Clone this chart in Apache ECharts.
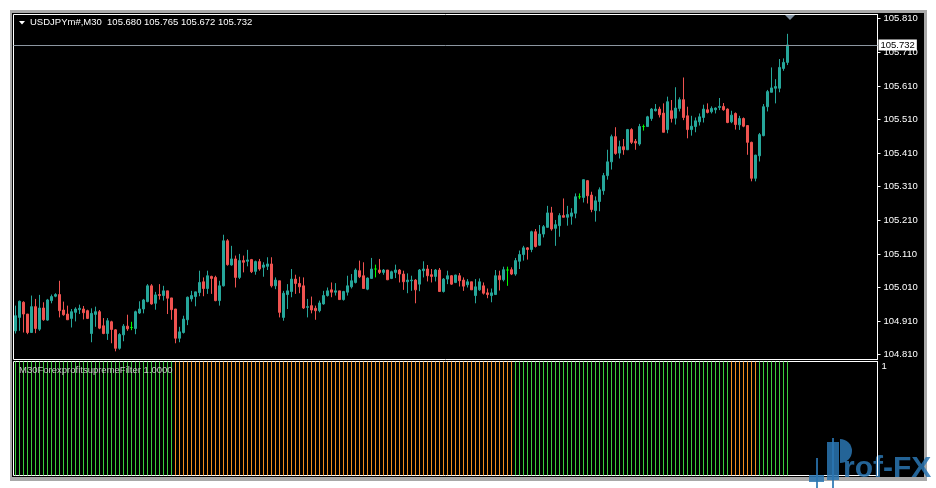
<!DOCTYPE html>
<html><head><meta charset="utf-8">
<script src="https://cdn.jsdelivr.net/npm/echarts@6/dist/echarts.min.js"></script>
<style>html,body{margin:0;padding:0;background:#fff}#c{width:936px;height:488px}</style>
</head><body><div id="c"></div>
<script>
// ---- data ----
const opens = [
104.881,104.921,104.966,104.931,104.876,104.953,104.886,104.949,104.913,104.971,
104.984,104.989,104.943,104.931,104.918,104.936,104.944,104.946,104.941,104.873,
104.930,104.938,104.896,104.873,104.908,104.884,104.829,104.869,104.895,104.891,
104.888,104.934,104.946,104.968,105.015,104.963,104.989,104.986,105.000,104.979,
104.946,104.859,104.876,104.914,104.976,104.983,104.995,105.027,105.007,105.043,
105.040,104.971,105.015,105.149,105.077,105.095,105.040,105.090,105.088,105.093,
105.058,105.087,105.070,105.073,105.080,105.015,105.030,104.921,104.989,104.998,
105.035,105.022,105.015,104.951,104.956,104.948,104.941,104.961,104.986,105.003,
104.996,105.000,104.974,104.996,105.012,105.025,105.060,105.045,105.005,105.037,
105.065,105.062,105.055,105.062,105.037,105.055,105.062,105.050,105.027,105.030,
105.032,105.020,105.060,105.065,105.048,105.043,105.062,104.998,105.035,105.045,
105.025,105.045,105.032,105.018,105.027,104.986,105.003,105.015,104.994,104.986,
104.989,105.045,105.033,105.062,105.063,105.050,105.088,105.108,105.128,105.123,
105.176,105.136,105.169,105.189,105.232,105.186,105.194,105.224,105.219,105.222,
105.231,105.280,105.278,105.328,105.285,105.239,105.266,105.298,105.343,105.384,
105.459,105.410,105.429,105.420,105.480,105.445,105.437,105.489,105.489,105.513,
105.536,105.541,105.529,105.480,105.536,105.514,105.543,105.569,105.521,105.480,
105.489,105.503,105.516,105.539,105.533,105.539,105.546,105.549,105.541,105.503,
105.528,105.494,105.513,105.492,105.442,105.335,105.402,105.462,105.548,105.591,
105.603,105.603,105.662,105.680];
const highs = [
104.956,104.971,104.969,104.931,104.986,104.976,104.988,104.966,104.976,104.989,
104.993,105.030,104.968,104.956,104.946,104.951,104.959,104.955,104.944,104.948,
104.953,104.943,104.919,104.919,104.911,104.886,104.874,104.901,104.929,104.908,
104.941,104.969,104.976,105.020,105.020,104.997,105.020,105.015,105.000,104.979,
104.946,104.893,104.926,104.983,105.000,104.997,105.060,105.040,105.060,105.045,
105.045,105.030,105.167,105.154,105.134,105.105,105.110,105.105,105.122,105.095,
105.090,105.095,105.085,105.100,105.100,105.040,105.030,105.000,105.020,105.065,
105.048,105.042,105.040,104.976,104.983,104.956,104.971,105.000,105.010,105.025,
105.023,105.000,105.000,105.045,105.050,105.067,105.090,105.085,105.040,105.098,
105.078,105.095,105.065,105.062,105.060,105.078,105.065,105.060,105.052,105.045,
105.035,105.065,105.088,105.077,105.065,105.065,105.068,105.038,105.060,105.047,
105.048,105.053,105.040,105.035,105.027,105.035,105.037,105.025,105.007,105.007,
105.062,105.060,105.072,105.072,105.070,105.098,105.120,105.134,105.130,105.179,
105.184,105.196,105.196,105.253,105.250,105.211,105.231,105.275,105.253,105.246,
105.290,105.290,105.331,105.330,105.295,105.281,105.308,105.351,105.420,105.465,
105.487,105.447,105.452,105.482,105.484,105.452,105.497,105.495,105.521,105.544,
105.556,105.548,105.558,105.578,105.568,105.606,105.576,105.635,105.548,105.521,
105.516,105.528,105.554,105.558,105.549,105.546,105.574,105.559,105.543,105.536,
105.531,105.521,105.516,105.492,105.444,105.405,105.470,105.556,105.598,105.665,
105.630,105.690,105.692,105.765];
const lows = [
104.873,104.881,104.876,104.871,104.876,104.874,104.881,104.911,104.911,104.963,
104.981,104.921,104.926,104.914,104.891,104.909,104.931,104.915,104.916,104.847,
104.893,104.886,104.871,104.854,104.844,104.820,104.825,104.850,104.881,104.883,
104.871,104.931,104.933,104.966,104.959,104.944,104.974,104.971,104.931,104.914,
104.844,104.847,104.873,104.898,104.968,104.954,104.984,104.984,104.991,104.991,
104.969,104.956,105.013,105.075,105.075,105.010,105.035,105.055,105.073,105.053,
105.048,105.060,105.042,105.062,105.010,105.005,104.921,104.911,104.946,104.981,
104.991,104.993,104.946,104.921,104.933,104.914,104.936,104.959,104.983,104.981,
104.986,104.974,104.971,104.986,105.007,105.022,105.038,105.007,105.002,105.037,
105.040,105.050,105.048,105.032,105.035,105.038,105.025,105.003,104.993,105.000,
104.963,104.999,105.040,105.028,105.025,105.028,104.998,104.995,105.020,105.018,
105.023,105.013,105.000,105.010,105.003,104.963,105.000,104.989,104.978,104.966,
104.989,105.001,105.028,105.015,105.047,105.045,105.065,105.090,105.093,105.115,
105.129,105.134,105.159,105.189,105.179,105.134,105.161,105.219,105.194,105.197,
105.216,105.273,105.263,105.260,105.234,105.206,105.237,105.286,105.331,105.361,
105.405,105.394,105.405,105.419,105.437,105.420,105.432,105.477,105.489,105.506,
105.534,105.516,105.472,105.469,105.501,105.495,105.534,105.508,105.454,105.462,
105.472,105.492,105.501,105.528,105.528,105.528,105.538,105.536,105.499,105.499,
105.480,105.479,105.487,105.405,105.326,105.326,105.385,105.460,105.534,105.591,
105.558,105.591,105.655,105.672];
const closes = [
104.926,104.969,104.931,104.876,104.953,104.888,104.949,104.914,104.973,104.983,
104.989,104.941,104.929,104.914,104.938,104.946,104.948,104.935,104.918,104.933,
104.938,104.889,104.873,104.911,104.885,104.829,104.870,104.895,104.887,104.891,
104.938,104.946,104.973,105.015,104.961,104.988,104.986,105.000,104.978,104.944,
104.859,104.878,104.916,104.981,104.986,104.997,105.025,105.007,105.045,105.037,
104.971,105.015,105.149,105.078,105.095,105.040,105.090,105.085,105.092,105.057,
105.087,105.065,105.077,105.080,105.015,105.032,104.936,104.993,105.000,105.035,
105.022,105.012,104.949,104.953,104.943,104.941,104.964,104.986,105.000,104.996,
105.000,104.974,104.998,105.015,105.030,105.062,105.042,105.007,105.038,105.065,
105.065,105.055,105.062,105.033,105.057,105.062,105.050,105.027,105.032,105.032,
105.003,105.062,105.065,105.045,105.043,105.062,104.998,105.035,105.045,105.020,
105.047,105.030,105.014,105.027,105.003,105.012,105.027,104.993,104.989,104.994,
105.045,105.033,105.063,105.062,105.050,105.090,105.108,105.128,105.123,105.176,
105.132,105.169,105.191,105.232,105.184,105.197,105.224,105.219,105.227,105.232,
105.280,105.280,105.331,105.283,105.242,105.268,105.301,105.343,105.384,105.459,
105.409,105.429,105.420,105.480,105.442,105.440,105.489,105.489,105.518,105.541,
105.541,105.524,105.472,105.563,105.513,105.544,105.569,105.516,105.480,105.490,
105.506,105.518,105.541,105.531,105.543,105.544,105.549,105.539,105.501,105.523,
105.495,105.513,105.490,105.442,105.335,105.404,105.465,105.548,105.593,105.604,
105.608,105.665,105.680,105.732];
// filter indicator state per bar: 1 = green, 0 = orange
const filterState = [
1,1,1,1,1,1,1,1,1,1, 1,1,1,1,1,1,1,1,1,1, 1,1,1,1,1,1,1,1,1,1, 1,1,1,1,1,1,1,1,1,1,
0,0,0,0,0,0,0,0,0,0, 0,0,0,0,0,0,0,0,0,0, 0,0,0,0,0,0,0,0,0,0, 0,0,0,0,0,0,0,0,0,0,
0,0,0,0,0,0,0,0,0,0, 0,0,0,0,0,0,0,0,0,0, 0,0,0,0,0,0,0,0,0,0, 0,0,0,0,0,0,0,0,0,0,
0,0,0,0,0,1,1,1,1,1, 1,1,1,1,1,1,1,1,1,1, 1,1,1,1,1,1,1,1,1,1, 1,1,1,1,1,1,1,1,1,1,
1,1,1,1,1,1,1,1,1,1, 1,1,1,1,1,1,1,1,1,0, 0,0,0,0,0,0,1,1,1,1, 1,1,1,1];
const priceTicks = [104.810,104.910,105.010,105.110,105.210,105.310,105.410,105.510,105.610,105.710,105.810];
const indicatorTicks = [1];
const symbolName = 'USDJPYm#,M30';
const lastBarOHLC = [105.680,105.765,105.672,105.732];
const currentPrice = 105.732;
const indicatorName = 'M30ForexprofitsupremeFilter 1.0000';
const logoText = 'rof-FX';

// ---- chart ----
const TOTAL_SLOTS = 216;
const cats = [];
for (let i = 0; i < TOTAL_SLOTS; i++) cats.push(String(i));
const UP = '#26a69a', DOWN = '#ef5350', DOJI = '#00ff00';
const GREEN = '#3ccd3c', ORANGE = '#f0901e';
const LOGO = 'rgba(42,118,178,0.85)';
const candleData = opens.map((o, i) => {
  const v = [o, closes[i], lows[i], highs[i]];
  if (o === closes[i]) return {value: v, itemStyle: {color: DOJI, color0: DOJI, borderColor: DOJI, borderColor0: DOJI}};
  return v;
});
const filterData = filterState.map(s => ({value: 1, itemStyle: {color: s ? GREEN : ORANGE}}));
const FONT = 'Liberation Sans, Arial, sans-serif';

const chart = echarts.init(document.getElementById('c'), null, {renderer: 'canvas'});
chart.setOption({
  animation: false,
  backgroundColor: '#ffffff',
  grid: [
    {left: 13.5, top: 14.5, width: 864, height: 345, show: true, borderColor: '#ffffff', borderWidth: 1, outerBoundsMode: 'none'},
    {left: 13.5, top: 361.5, width: 864, height: 114, show: true, borderColor: '#ffffff', borderWidth: 1, outerBoundsMode: 'none'}
  ],
  xAxis: [
    {type: 'category', gridIndex: 0, data: cats, boundaryGap: true, show: false},
    {type: 'category', gridIndex: 1, data: cats, boundaryGap: true, show: false}
  ],
  yAxis: [
    {type: 'value', gridIndex: 0, position: 'right', min: 104.7957, max: 105.8225, scale: true,
      splitLine: {show: false},
      axisLine: {show: true, lineStyle: {color: '#ffffff', width: 1}},
      axisTick: {show: true, length: 3, lineStyle: {color: '#ffffff'}, customValues: priceTicks},
      axisLabel: {show: true, color: '#ffffff', fontSize: 9.5, fontFamily: FONT, margin: 6,
        customValues: priceTicks, formatter: v => Number(v).toFixed(3)}
    },
    {type: 'value', gridIndex: 1, position: 'right', min: 0, max: 1,
      splitLine: {show: false},
      axisLine: {show: true, lineStyle: {color: '#ffffff', width: 1}},
      axisTick: {show: false},
      axisLabel: {show: true, color: '#ffffff', fontSize: 9.5, fontFamily: FONT, margin: 4,
        verticalAlign: 'top', customValues: indicatorTicks, formatter: v => (v === 1 ? '1' : '')}
    }
  ],
  series: [
    {type: 'candlestick', xAxisIndex: 0, yAxisIndex: 0, data: candleData, barWidth: 2,
      itemStyle: {color: UP, color0: DOWN, borderColor: UP, borderColor0: DOWN, borderColorDoji: DOJI, borderWidth: 1},
      markLine: {silent: true, symbol: ['none', 'none'], animation: false, precision: 3,
        lineStyle: {color: '#8c96a0', width: 1, type: 'solid'},
        label: {show: true, position: 'end', distance: 1, color: '#000000', backgroundColor: '#ffffff',
          padding: [1, 2, 0, 2], fontSize: 9.5, fontFamily: FONT, formatter: () => currentPrice.toFixed(3)},
        data: [{yAxis: currentPrice}]}
    },
    {type: 'bar', xAxisIndex: 1, yAxisIndex: 1, data: filterData, barWidth: 1, silent: true,
      itemStyle: {borderWidth: 0}, emphasis: {disabled: true}}
  ],
  graphic: [
    {type: 'rect', z: -10, shape: {x: 10, y: 10, width: 917, height: 471}, style: {fill: '#a8a8a8'}},
    {type: 'rect', z: -9, shape: {x: 12, y: 13, width: 912, height: 464}, style: {fill: '#000000'}},
    {type: 'polygon', z: 50, shape: {points: [[19, 21], [25, 21], [22, 24.5]]}, style: {fill: '#ffffff'}},
    {type: 'text', z: 50, left: 30, top: 17,
      style: {text: symbolName + '  ' + lastBarOHLC.map(v => v.toFixed(3)).join(' '), fill: '#ffffff', font: '9.5px ' + FONT}},
    {type: 'polygon', z: 50, shape: {points: [[785, 15], [795, 15], [790, 20]]}, style: {fill: '#8090a0'}},
    {type: 'text', z: 50, left: 19, top: 365,
      style: {text: indicatorName, fill: '#c8c8c8', font: '9.5px ' + FONT}},
    // logo
    {type: 'group', z: 100, children: [
      {type: 'rect', shape: {x: 816, y: 458, width: 2, height: 30}, style: {fill: LOGO}},
      {type: 'rect', shape: {x: 809, y: 475, width: 15, height: 7}, style: {fill: LOGO}},
      {type: 'rect', shape: {x: 832, y: 438, width: 2, height: 50}, style: {fill: LOGO}},
      {type: 'rect', shape: {x: 827, y: 442, width: 12, height: 38}, style: {fill: LOGO}},
      {type: 'sector', shape: {cx: 840, cy: 451, r: 12, r0: 0, startAngle: -Math.PI / 2, endAngle: Math.PI / 2, clockwise: true}, style: {fill: LOGO}},
      {type: 'text', style: {x: 843, y: 484, verticalAlign: 'bottom', text: logoText, fill: LOGO, font: 'bold 30px ' + FONT}}
    ]}
  ]
});
</script></body></html>
